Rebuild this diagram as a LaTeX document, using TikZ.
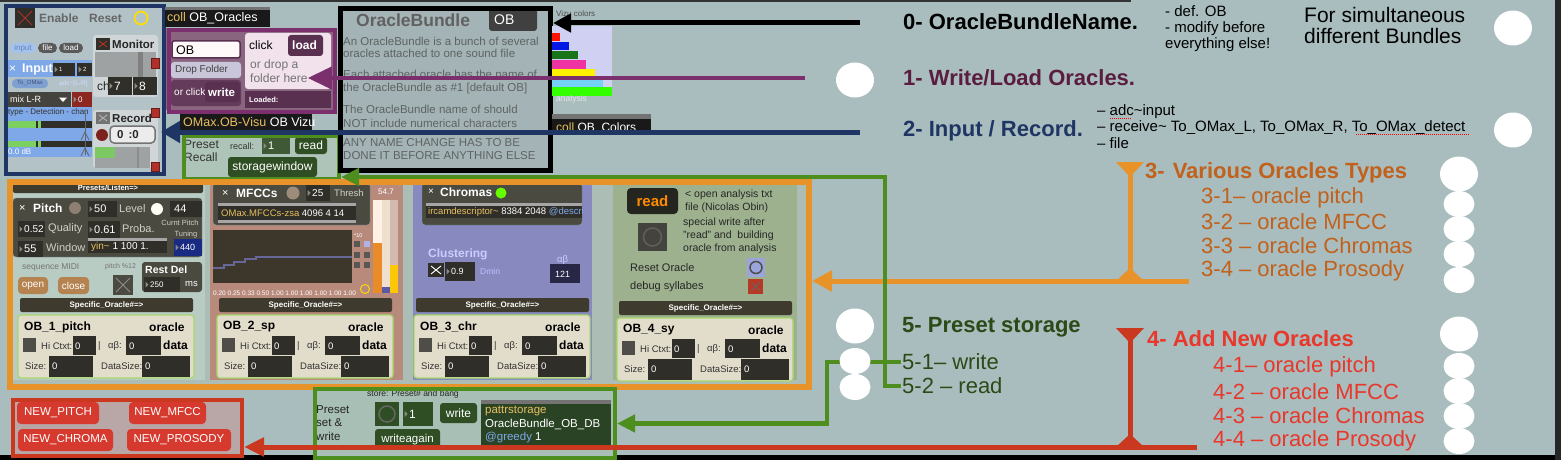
\documentclass[tikz,border=0pt]{standalone}
\usepackage{fontspec}
\setmainfont{Liberation Sans}
\usetikzlibrary{positioning,arrows.meta,calc,shapes.geometric}

\definecolor{bgteal}{HTML}{A9BDBE}
\definecolor{navyline}{HTML}{1F3563}
\definecolor{plumline}{HTML}{7B2F6C}
\definecolor{plumtext}{HTML}{5A1D40}
\definecolor{greenline}{HTML}{4E8E1E}
\definecolor{greentext}{HTML}{2C4A17}
\definecolor{orangeline}{HTML}{E8922A}
\definecolor{orangetext}{HTML}{C1611C}
\definecolor{redline}{HTML}{C9381F}
\definecolor{redtext}{HTML}{E8372B}
\definecolor{maxdark}{HTML}{2F2E28}
\definecolor{maxpanel}{HTML}{4A4A40}
\definecolor{numtri}{HTML}{8A8A80}
\definecolor{collyellow}{HTML}{E8C060}
\definecolor{inputfill}{HTML}{B2C2C6}
\definecolor{inputblue}{HTML}{7FA8E8}
\definecolor{widgetgrey}{HTML}{D0D6D8}
\definecolor{metergrey}{HTML}{9EA2A2}
\definecolor{metergreen}{HTML}{7CD060}
\definecolor{xred}{HTML}{B0302A}
\definecolor{mauve}{HTML}{8A6580}
\definecolor{darkplum}{HTML}{5A3050}
\definecolor{pinkpanel}{HTML}{F2E2EC}
\definecolor{dropgrey}{HTML}{C8C6D8}
\definecolor{recallfill}{HTML}{AEC4B8}
\definecolor{btngreen}{HTML}{2F4E23}
\definecolor{bundlefill}{HTML}{A4B3B5}
\definecolor{bundletext}{HTML}{5E6464}
\definecolor{typesfill}{HTML}{ABBDB4}
\definecolor{pitchfill}{HTML}{B8CCC4}
\definecolor{mfccfill}{HTML}{B88A7C}
\definecolor{chromafill}{HTML}{8789BF}
\definecolor{prosfill}{HTML}{9DB18E}
\definecolor{hdrdark}{HTML}{3E3A2E}
\definecolor{oraclebeige}{HTML}{E2DCCB}
\definecolor{oraclelime}{HTML}{A6D86A}
\definecolor{paneltext}{HTML}{D0D0C8}
\definecolor{brownbtn}{HTML}{B58350}
\definecolor{newfill}{HTML}{B9A7A8}
\definecolor{newred}{HTML}{D63A2E}
\definecolor{storefill}{HTML}{A7BFB4}

\newcommand\fsz[2]{\fontsize{#1}{#2}\selectfont}

\tikzset{
  boxframe/.style={anchor=north west, inner sep=0pt, line width=4pt},
  ptxt/.style={inner sep=0pt, anchor=west, font=\fsz{9}{10}},
  pbold/.style={inner sep=0pt, anchor=west, font=\fsz{11.5}{12}\bfseries, text=black!85},
  btxt/.style={inner sep=0pt, anchor=west, font=\fsz{11.5}{12}, text=bundletext},
  steplbl/.style={inner sep=1pt, anchor=west, font=\fsz{22}{24}\bfseries},
  sublbl/.style={inner sep=1pt, anchor=west, font=\fsz{22}{24}},
  bigdot/.style={ellipse, fill=white, inner sep=0pt, minimum width=38pt, minimum height=35pt},
  smalldot/.style={ellipse, fill=white, inner sep=0pt, minimum width=31pt, minimum height=26pt},
  cord/.style={line width=#1},
  spell/.style={red, line width=1pt, dash pattern=on 1pt off 1pt},
  newbtnbox/.style={fill=newred, rounded corners=4pt, text=white, inner sep=0pt,
    minimum height=22pt, font=\fsz{11.5}{12}},
  obtitle/.style={inner sep=0pt, anchor=west, font=\fsz{12}{13}\bfseries, text=black},
  obsmall/.style={inner sep=0pt, anchor=west, font=\fsz{9.5}{10}, text=black!80},
  obzero/.style={inner sep=0pt, anchor=west, font=\fsz{9.5}{10}, text=white},
}

% number box: x1 y1 x2 y2 fill value
\newcommand\numbx[6]{%
  \fill[#5] (#1,#2) rectangle (#3,#4);
  \fill[numtri] ($(#1,#2)!.5!(#1,#4)+(1.5,-3)$) -- ++(3,3) -- ++(-3,3) -- cycle;
  \node[ptxt,text=white] (nb-#1-#2) at ($(#1,#2)!.5!(#1,#4)+(6,0)$) {#6};}

% toggle: x1 y1 x2 y2 fill cross
\newcommand\crossbox[6]{%
  \fill[#5] (#1,#2) rectangle (#3,#4);
  \draw[#6,line width=.9pt] ($(#1,#2)+(3,3)$) -- ($(#3,#4)+(-3,-3)$)
    ($(#3,#2)+(-3,3)$) -- ($(#1,#4)+(3,-3)$);}

% one oracle display with its header
\newcommand\oraclecell[4]{%
\begin{scope}[shift={(#1,#2)}]
  \fill[hdrdark,rounded corners=2pt] (2,-17) rectangle (175,-3);
  \node[inner sep=0pt,font=\fsz{8}{9}\bfseries,text=white] (#4-hdr) at (88.5,-10) {Specific\_Oracle\#=>};
  \filldraw[fill=oraclebeige,draw=oraclelime,line width=1.2pt,rounded corners=3pt] (0,0) rectangle (176,63);
  \node[obtitle] (#4-name) at (6,12) {#3};
  \node[obtitle] (#4-oracle) at (131,12) {oracle};
  \fill[maxdark!85] (5,23) rectangle (18,37);
  \node[obsmall] (#4-hi) at (23,31) {Hi Ctxt:};
  \fill[maxdark] (55,21) rectangle (78,40);
  \node[obzero] (#4-hiv) at (57,31) {0};
  \node[obsmall] (#4-bar) at (80,31) {|};
  \node[obsmall] (#4-ab) at (90,31) {αβ:};
  \fill[maxdark] (108,21) rectangle (143,40);
  \node[obzero] (#4-abv) at (111,31) {0};
  \node[obtitle] (#4-data) at (145,30) {data};
  \node[obsmall] (#4-size) at (7,51) {Size:};
  \fill[maxdark] (31,41) rectangle (75,62);
  \node[obzero] (#4-sizev) at (34,51) {0};
  \node[obsmall] (#4-ds) at (83,51) {DataSize:};
  \fill[maxdark] (124,41) rectangle (172,62);
  \node[obzero] (#4-dsv) at (127,51) {0};
\end{scope}}

\begin{document}
\begin{tikzpicture}[x=1pt,y=-1pt]
\useasboundingbox (0,0) rectangle (1561,460);
\fill[bgteal] (0,0) rectangle (1561,460);
\fill[black!80] (0,0) rectangle (1131,2.5);
\fill[black] (0,455) rectangle (1561,460);
\fill[black!85] (1555,0) rectangle (1561,460);

% 2- input / record
\fill[inputfill] (4,4) rectangle (162,172);
\crossbox{15}{8}{35}{28}{maxdark}{xred}
\node[pbold,text=black!60,font=\fsz{12}{13}\bfseries] (enable) at (39,18) {Enable};
\node[pbold,text=black!60,font=\fsz{12}{13}\bfseries] (reset) at (89,18) {Reset};
\draw[yellow!80!orange,line width=1.8pt] (141,18) circle (6.5);
\fill[inputblue!70,rounded corners=5pt] (10,43) rectangle (36,53);
\node[inner sep=0pt,text=inputblue!80!black,font=\fsz{8}{9}] (pillin) at (23,48) {input};
\fill[black!65,rounded corners=5pt] (38,43) rectangle (57,53);
\node[inner sep=0pt,text=white,font=\fsz{8}{9}] (pillfile) at (47.5,48) {file};
\fill[black!65,rounded corners=5pt] (59,43) rectangle (83,53);
\node[inner sep=0pt,text=white,font=\fsz{8}{9}] (pillload) at (71,48) {load};
\fill[widgetgrey,rounded corners=3pt] (93,35) rectangle (158,97);
\crossbox{96}{38}{110}{50}{maxdark}{xred}
\node[pbold] (monitor) at (112,44) {Monitor};
\fill[metergrey] (95,52) rectangle (156,77);
\fill[black!50] (138,52) rectangle (143,77);
\filldraw[fill=xred,draw=xred!60!black] (151,58) rectangle (159,68);
\node[ptxt,font=\fsz{12}{13},text=black!85] (ch) at (97,86) {ch};
\numbx{108}{77}{132}{95}{maxdark}{\fsz{12}{13}7}
\numbx{133}{77}{157}{95}{maxdark}{\fsz{12}{13}8}
\fill[inputblue] (7,60) rectangle (92,77);
\node[ptxt,text=white,font=\fsz{12}{13}] (inx) at (9,69) {×};
\node[ptxt,text=white,font=\fsz{12.5}{13}\bfseries] (inputlbl) at (22,69) {Input};
\numbx{53}{63}{75}{76}{maxdark}{\fsz{6}{7}1}
\numbx{77}{63}{92}{76}{maxdark}{\fsz{6}{7}2}
\fill[inputblue!80!gray,rounded corners=4pt] (12,79) rectangle (48,88);
\node[inner sep=0pt,font=\fsz{6}{7},text=inputblue!50!black] (toomax) at (30,83.5) {To\_OMax};
\node[ptxt,font=\fsz{6.5}{7},text=white!85!blue] (adclr) at (59,83.5) {adc\textasciitilde[L-R]};
\fill[maxdark!90] (7,92) rectangle (71,107);
\node[ptxt,text=white] (mixlr) at (10,99.5) {mix L-R};
\fill[white] (59,97.5) -- (67,97.5) -- (63,102) -- cycle;
\numbx{72}{92}{92}{107}{xred!80!black}{\fsz{8}{9}0}
\fill[inputblue] (7,107) rectangle (92,157);
\node[ptxt,font=\fsz{8}{9},text=black!80] (detect) at (8,112.5) {type - Detection - chan};
\fill[maxdark] (7,121) rectangle (92,128);
\fill[metergreen] (7,121) rectangle (36,128);
\fill[metergreen] (38,121) rectangle (41,128);
\fill[maxdark] (7,141) rectangle (92,147);
\fill[metergreen] (7,141) rectangle (36,147);
\fill[metergreen] (38,141) rectangle (41,147);
\node[ptxt,font=\fsz{8}{9},text=white!85] (db) at (8,152) {0.0 dB};
\draw[black!60,line width=.8pt] (85,113) -- (85,155);
\draw[black!60,line width=.8pt] (81,140) -- (85,132) -- (89,140) (81,156) -- (85,148) -- (89,156);
\fill[widgetgrey,rounded corners=3pt] (93,110) rectangle (158,168);
\crossbox{96}{112}{110}{124}{black!55}{black!30}
\node[pbold] (record) at (112,118) {Record};
\fill[xred!70!black] (102,135) circle (6);
\filldraw[fill=white!85!gray,draw=black!55,line width=1.5pt,rounded corners=4pt] (110,126) rectangle (155,143);
\node[pbold] (recclock) at (117,134.5) {0\hspace{5pt}:0};
\fill[metergrey] (95,147) rectangle (150,168);
\fill[metergreen!90!gray] (95,147) rectangle (115,158);
\fill[black!45] (137,147) rectangle (139,168);
\filldraw[fill=xred,draw=xred!60!black] (151,108) rectangle (159,117);
\filldraw[fill=xred,draw=xred!60!black] (151,162) rectangle (159,171);
\node[boxframe,draw=navyline,minimum width=158pt,minimum height=168pt] (inbox) at (4,4) {};

% 1- write / load
\fill[black!55] (165,7) rectangle (270,10);
\fill[black!90] (165,10) rectangle (270,27);
\node[ptxt,font=\fsz{12.5}{13},text=white] (collor) at (167,18.5) {\textcolor{collyellow}{coll} OB\_Oracles};
\fill[mauve] (166,28) rectangle (333,110);
\filldraw[fill=white!90!pink,draw=darkplum,line width=1.5pt,rounded corners=2pt] (172,41) rectangle (240,58);
\node[ptxt,font=\fsz{12.5}{13},text=black] (obfield) at (176,50) {OB};
\fill[dropgrey,rounded corners=3pt] (171,62) rectangle (241,78);
\node[ptxt,font=\fsz{10}{11},text=black!75] (dropfolder) at (175,70) {Drop Folder};
\fill[darkplum!80!mauve,rounded corners=3pt] (171,80) rectangle (241,106);
\node[ptxt,font=\fsz{10}{11},text=white!80] (orclick) at (174,92) {or click};
\fill[darkplum,rounded corners=3pt] (205,82) rectangle (240,102);
\node[ptxt,font=\fsz{11.5}{12}\bfseries,text=white!90] (writebtn) at (208,92) {write};
\fill[pinkpanel,rounded corners=3pt] (245,33) rectangle (331,89);
\node[ptxt,font=\fsz{12}{13},text=black] (click) at (249,45) {click};
\fill[darkplum,rounded corners=3pt] (288,35) rectangle (323,56);
\node[ptxt,font=\fsz{12}{13}\bfseries,text=white] (loadbtn) at (292,45.5) {load};
\node[ptxt,font=\fsz{12}{14},text=black!55,align=left,anchor=north west] (dropnote) at (250,60) {or drop a\\folder here};
\fill[darkplum] (245,91) rectangle (331,108);
\node[ptxt,font=\fsz{7.5}{8}\bfseries,text=white] (loaded) at (249,99.5) {Loaded:};
\node[boxframe,draw=plumline,minimum width=166pt,minimum height=82pt] (wlbox) at (167,28) {};
\fill[black!90] (180,114) rectangle (312,130);
\node[ptxt,font=\fsz{12.5}{13},text=white] (visu) at (183,122) {\textcolor{collyellow}{OMax.OB-Visu} OB Vizu};

% 5- preset recall
\fill[recallfill] (182,134) rectangle (337,177);
\node[ptxt,font=\fsz{12}{13},text=black!80,align=left,anchor=north west] (recalllbl) at (184,140) {Preset\\Recall};
\node[ptxt,font=\fsz{9}{10},text=black!80] (recallcol) at (230,146) {recall:};
\numbx{262}{138}{290}{154}{btngreen!80!gray}{\fsz{11}{12}1}
\fill[btngreen,rounded corners=3pt] (295,137) rectangle (327,154);
\node[inner sep=0pt,font=\fsz{12}{13},text=white] (readbtn) at (311,145.5) {read};
\fill[btngreen,rounded corners=3pt] (228,157) rectangle (317,177);
\node[inner sep=0pt,font=\fsz{12}{13},text=white] (storwin) at (272.5,167) {storagewindow};
\node[boxframe,draw=greenline,minimum width=155pt,minimum height=43pt] (recallbox) at (182,134) {};

% 0- oracle bundle
\fill[bundlefill] (338,6) rectangle (548,168);
\node[ptxt,font=\fsz{17.5}{18}\bfseries,text=black!62] (bundletitle) at (356,20) {OracleBundle};
\fill[black!75,rounded corners=3pt] (489,8) rectangle (537,31);
\node[ptxt,font=\fsz{14}{15},text=white] (obname) at (494,19.5) {OB};
\node[btxt] (bt1) at (343,41) {An OracleBundle is a bunch of several};
\node[btxt] (bt2) at (343,53) {oracles attached to one sound file};
\node[btxt] (bt3) at (343,74) {Each attached oracle has the name of};
\node[btxt] (bt4) at (343,89) {the OracleBundle as \#1 [default OB]};
\node[btxt] (bt5) at (343,109) {The OracleBundle name of should};
\node[btxt] (bt6) at (343,123) {NOT include numerical characters};
\node[btxt] (bt7) at (343,143) {ANY NAME CHANGE HAS TO BE};
\node[btxt] (bt8) at (343,156) {DONE IT BEFORE ANYTHING ELSE};
\node[boxframe,draw=black,line width=5pt,minimum width=210pt,minimum height=162pt] (bundlebox) at (338,6) {};
\node[ptxt,font=\fsz{8}{9},text=black!70] (vizu) at (556,14) {Vizu colors};
\fill[white!85!blue!90!gray] (552,26) rectangle (612,87);
\fill[red!85!orange] (552,33) rectangle (560,41);
\fill[blue!90!cyan!90!black] (552,42) rectangle (569,50);
\fill[green!45!black!80!gray] (552,51) rectangle (578,59);
\fill[magenta!80!white] (552,60) rectangle (586,69);
\fill[yellow] (552,69) rectangle (595,78);
\fill[cyan!55!white] (552,79) rectangle (603,87);
\fill[green!80!yellow] (552,87) rectangle (612,96);
\node[ptxt,font=\fsz{8.5}{9},text=white!80!gray] (analysis) at (556,99) {analysis};
\fill[black!55] (552,114) rectangle (651,119);
\fill[black!90] (552,119) rectangle (651,135);
\node[ptxt,font=\fsz{12}{13},text=white] (collco) at (556,128) {\textcolor{collyellow}{coll} OB\_Colors};

% 3- oracle types
\fill[typesfill] (7,179) rectangle (806,384);
\fill[pitchfill] (10,182) rectangle (205,380);
\fill[hdrdark,rounded corners=2pt] (13,183) rectangle (203,193);
\node[inner sep=0pt,font=\fsz{7.5}{8}\bfseries,text=white] (presets) at (108,188) {Presets/Listen=>};
\filldraw[fill=maxpanel,draw=cyan!20!gray,rounded corners=3pt] (13,198) rectangle (202,257);
\node[ptxt,text=white!80,font=\fsz{11}{12}] (pitchx) at (19,208) {×};
\node[ptxt,text=white!85,font=\fsz{12}{13}\bfseries] (pitchlbl) at (33,208) {Pitch};
\fill[gray!80!brown] (75,208) circle (6);
\numbx{88}{201}{117}{217}{maxdark}{\fsz{11}{12}50}
\node[ptxt,text=paneltext,font=\fsz{11}{12}] (level) at (119,209) {Level};
\fill[white!95!yellow] (157,209) circle (6);
\fill[maxdark] (170,201) rectangle (202,217);
\node[ptxt,text=white,font=\fsz{11}{12}] (pitch44) at (174,209) {44};
\numbx{18}{221}{45}{237}{maxdark}{\fsz{10}{11}0.52}
\node[ptxt,text=paneltext,font=\fsz{11}{12}] (quality) at (48,229) {Quality};
\numbx{88}{221}{120}{238}{maxdark}{\fsz{11}{12}0.61}
\node[ptxt,text=paneltext,font=\fsz{11}{12}] (proba) at (122,229) {Proba.};
\node[inner sep=0pt,text=paneltext,font=\fsz{7.5}{8}] (curnt) at (180,223) {Curnt Pitch};
\numbx{18}{241}{43}{257}{maxdark}{\fsz{11}{12}55}
\node[ptxt,text=paneltext,font=\fsz{11}{12}] (window) at (46,248) {Window};
\fill[gray!70] (88,238) rectangle (167,241);
\fill[maxdark] (88,241) rectangle (167,253);
\node[ptxt,text=white,font=\fsz{10}{11}] (yin) at (91,247) {\textcolor{collyellow}{yin\textasciitilde} 1 100 1.};
\node[inner sep=0pt,text=paneltext,font=\fsz{7.5}{8}] (tuning) at (186,235) {Tuning};
\numbx{174}{239}{202}{256}{navyline!80!blue}{\fsz{9}{10}440}
\node[ptxt,text=black!55,font=\fsz{8.5}{9}] (seqmidi) at (22,267) {sequence MIDI};
\node[ptxt,text=black!55,font=\fsz{7}{8}] (pitch12) at (105,267) {pitch \%12};
\fill[brownbtn,rounded corners=4pt] (18,277) rectangle (48,294);
\node[inner sep=0pt,text=white!90,font=\fsz{10}{11}] (openbtn) at (33,285.5) {open};
\fill[brownbtn,rounded corners=4pt] (58,277) rectangle (89,294);
\node[inner sep=0pt,text=white!90,font=\fsz{10}{11}] (closebtn) at (73.5,285.5) {close};
\crossbox{113}{275}{133}{295}{maxpanel}{black!45}
\fill[maxpanel,rounded corners=3pt] (142,262) rectangle (202,292);
\node[ptxt,text=white!90,font=\fsz{10.5}{11}\bfseries] (restdel) at (145,270) {Rest Del};
\numbx{144}{277}{180}{292}{maxdark}{\fsz{8}{9}250}
\node[ptxt,text=white!80,font=\fsz{9.5}{10}] (ms) at (185,284) {ms};
\oraclecell{18}{315}{OB\_1\_pitch}{ob1}

\fill[mfccfill] (210,182) rectangle (403,380);
\filldraw[fill=maxpanel,draw=cyan!20!gray,rounded corners=3pt] (213,183) rectangle (370,225);
\node[ptxt,text=white!80,font=\fsz{11}{12}] (mfccx) at (222,193) {×};
\node[ptxt,text=white,font=\fsz{12}{13}\bfseries] (mfcclbl) at (236,193) {MFCCs};
\fill[gray!70!brown!90] (293,193) circle (6.5);
\numbx{306}{185}{330}{201}{maxdark}{\fsz{10}{11}25}
\node[ptxt,text=paneltext,font=\fsz{9.5}{10}] (thresh) at (334,193) {Thresh};
\fill[gray!70] (218,203) rectangle (356,206);
\fill[maxdark] (218,206) rectangle (356,220);
\node[ptxt,text=white,font=\fsz{9.5}{10}] (zsa) at (221,213) {\textcolor{collyellow}{OMax.MFCCs-zsa} 4096 4 14};
\fill[gray!70] (218,220) rectangle (356,223);
\fill[maxdark!90!brown] (213,230) rectangle (352,283);
\draw[blue!20!gray,line width=1.2pt] (213,268) -- (224,268) -- (224,265) -- (234,265) -- (234,262)
  -- (245,262) -- (245,259) -- (256,259) -- (256,257) -- (352,257);
\foreach \yy in {241,252,262} {
  \fill[gray!50!maxdark] (354,\yy) rectangle (360,\yy+6);
  \fill[gray!50!maxdark] (364,\yy) rectangle (370,\yy+6);
}
\fill[blue!25!white!80!gray] (364,241) rectangle (370,247);
\node[ptxt,text=white!80,font=\fsz{5.5}{6}] (times10) at (354,236) {*10};
\node[ptxt,text=white!80,font=\fsz{6.5}{7}] (ratios) at (213,293) {0.20 0.25 0.33 0.50 1.00 1.00 1.00 1.00 1.00 1.00};
\draw[yellow!80!orange,line width=.9pt] (365,289) circle (4.5);
\fill[white!90!orange] (373,200) rectangle (382,243);
\fill[orangeline!95!red] (373,243) rectangle (382,293);
\fill[white!75!brown] (382,200) rectangle (390,287);
\fill[blue!30!gray] (382,287) rectangle (390,293);
\fill[mfccfill!60!white] (390,200) rectangle (398,265);
\fill[yellow!60!orange] (390,265) rectangle (398,293);
\node[ptxt,text=white!80,font=\fsz{8}{9}] (meter) at (378,192) {54.7};
\oraclecell{217}{315}{OB\_2\_sp}{ob2}

\fill[chromafill] (413,182) rectangle (592,380);
\filldraw[fill=maxpanel,draw=cyan!20!gray,rounded corners=3pt] (422,183) rectangle (582,225);
\node[ptxt,text=white!80,font=\fsz{10}{11}] (chromax) at (428,192) {×};
\node[ptxt,text=white,font=\fsz{12}{13}\bfseries] (chromalbl) at (440,192) {Chromas};
\fill[green!60!yellow] (501,193) circle (5.5);
\begin{scope}
  \clip (426,203) rectangle (582,220);
  \fill[gray!70] (426,203) rectangle (582,206);
  \fill[maxdark] (426,206) rectangle (582,218);
  \node[ptxt,text=white,font=\fsz{9.5}{10}] (ircam) at (428,212) {\textcolor{collyellow}{ircamdescriptor\textasciitilde} 8384 2048 \textcolor{inputblue}{@descriptors}};
\end{scope}
\node[ptxt,text=white!80!blue,font=\fsz{12}{13}\bfseries] (clustering) at (428,254) {Clustering};
\crossbox{428}{263}{444}{277}{maxdark}{white!80}
\numbx{445}{262}{475}{281}{maxdark}{\fsz{9}{10}0.9}
\node[ptxt,text=white!75!blue,font=\fsz{8.5}{9}] (dmin) at (480,271) {Dmin};
\node[ptxt,text=white!80!blue,font=\fsz{9.5}{10}] (abhead) at (557,260) {αβ};
\fill[maxdark!85!blue] (550,264) rectangle (580,283);
\node[ptxt,text=white,font=\fsz{9}{10}] (ab121) at (555,274) {121};
\oraclecell{414}{315}{OB\_3\_chr}{ob3}

\fill[prosfill] (613,182) rectangle (797,380);
\fill[maxdark!80!black,rounded corners=4pt] (627,188) rectangle (678,214);
\node[inner sep=0pt,text=orange!90!yellow,font=\fsz{15}{16}\bfseries] (readana) at (652.5,201) {read};
\node[ptxt,anchor=north west,align=left,font=\fsz{10.5}{12.5},text=black!85] (opennote) at (685,190) {< open analysis txt\\file (Nicolas Obin)};
\node[ptxt,anchor=north west,align=left,font=\fsz{10.5}{13},text=black!85] (specialnote) at (683,218) {special write after\\"read" and\ \ building\\oracle from analysis};
\fill[maxdark!90] (638,223) rectangle (667,251);
\draw[gray!60!maxdark,line width=1.5pt] (652.5,237) circle (9);
\node[ptxt,font=\fsz{11}{12},text=black!85] (resetor) at (630,268) {Reset Oracle};
\fill[cyan!30!blue!40!white] (747,258) rectangle (765,277);
\draw[black!70,line width=1.5pt] (756,267.5) circle (6);
\node[ptxt,font=\fsz{11}{12},text=black!85] (debugsy) at (630,287) {debug syllabes};
\crossbox{748}{279}{763}{294}{xred!90!orange}{black!60}
\oraclecell{617}{318}{OB\_4\_sy}{ob4}
\node[boxframe,draw=orangeline,line width=6pt,minimum width=799pt,minimum height=205pt] (typesbox) at (7,179) {};

% 4- new oracles
\fill[newfill] (11,398) rectangle (240,454);
\foreach \t/\cx/\cy/\w [count=\i] in {NEW\_PITCH/58/413/82, NEW\_MFCC/167.5/413/77,
    NEW\_CHROMA/65.5/440/95, NEW\_PROSODY/179/440/104}
  \node[newbtnbox,minimum width=\w pt] (newbtn\i) at (\cx,\cy) {\t};
\node[boxframe,draw=redline,minimum width=229pt,minimum height=56pt] (newbox) at (11,398) {};

% 5- preset storage
\fill[storefill] (313,387) rectangle (613,456);
\node[ptxt,font=\fsz{8.5}{9},text=black!85] (storehint) at (367,394) {store: Preset\# and bang};
\node[ptxt,font=\fsz{11.5}{13.5},align=left,anchor=north west,text=black!85] (storelbl) at (316,405) {Preset\\set \&\\write};
\fill[btngreen] (375,402) rectangle (399,426);
\draw[black!60,line width=1.5pt] (387,414) circle (8);
\numbx{403}{402}{433}{426}{btngreen}{\fsz{12}{13}1}
\fill[btngreen,rounded corners=3pt] (440,403) rectangle (477,423);
\node[inner sep=0pt,font=\fsz{12}{13},text=white] (writebtn2) at (458.5,413) {write};
\fill[btngreen,rounded corners=3pt] (375,429) rectangle (440,449);
\node[inner sep=0pt,font=\fsz{11.5}{12},text=white] (writeagain) at (407.5,439.5) {writeagain};
\fill[black!55] (481,400) rectangle (611,404);
\fill[maxdark!90!green] (481,404) rectangle (611,449);
\node[ptxt,font=\fsz{11.5}{13.5},align=left,anchor=north west,text=white] (pattr) at (485,406)
  {\textcolor{collyellow}{pattrstorage}\\OracleBundle\_OB\_DB\\\textcolor{inputblue}{@greedy} 1};
\node[boxframe,draw=greenline,minimum width=300pt,minimum height=69pt] (storebox) at (313,387) {};

% notes on the right
\node[steplbl,text=black] (lbl0) at (902,22) {0- OracleBundleName.};
\node[inner sep=0pt,anchor=north west,align=left,font=\fsz{15}{16}] (note0) at (1165,5) {- def. OB\\- modify before\\everything else!};
\node[inner sep=0pt,anchor=north west,align=left,font=\fsz{21}{21.5}] (note0b) at (1304,7) {For simultaneous\\different Bundles};
\node[steplbl,text=plumtext] (lbl1) at (902,78) {1- Write/Load Oracles.};
\node[steplbl,text=navyline] (lbl2) at (902,131) {2- Input / Record.};
\node[inner sep=0pt,anchor=north west,align=left,font=\fsz{15}{16.5}] (note2) at (1097,104)
  {– adc\textasciitilde input\\– receive\textasciitilde{} To\_OMax\_L, To\_OMax\_R, To\_OMax\_detect\\– file};
\draw[spell] (1110,118) -- (1132,118);
\draw[spell] (1356,134.5) -- (1469,134.5);
\node[steplbl,text=orangetext] (lbl3) at (1144,173) {3-\hspace{8pt}Various Oracles Types};
\node[sublbl,text=orangetext] (lbl31) at (1200,198) {3-1– oracle pitch};
\node[sublbl,text=orangetext] (lbl32) at (1200,222) {3-2 – oracle MFCC};
\node[sublbl,text=orangetext] (lbl33) at (1200,246) {3-3 – oracle Chromas};
\node[sublbl,text=orangetext] (lbl34) at (1200,271) {3-4 – oracle Prosody};
\node[steplbl,text=greentext] (lbl5) at (901,327) {5- Preset storage};
\node[sublbl,text=greentext] (lbl51) at (901,362) {5-1– write};
\node[sublbl,text=greentext] (lbl52) at (901,386) {5-2 – read};
\node[steplbl,text=redtext] (lbl4) at (1146,339) {4- Add New Oracles};
\node[sublbl,text=redtext] (lbl41) at (1212,367) {4-1– oracle pitch};
\node[sublbl,text=redtext] (lbl42) at (1212,392) {4-2 – oracle MFCC};
\node[sublbl,text=redtext] (lbl43) at (1212,416) {4-3 – oracle Chromas};
\node[sublbl,text=redtext] (lbl44) at (1212,441) {4-4 – oracle Prosody};

% connectors
\coordinate (c0) at (860,23);
\coordinate (c1) at (805,78);
\coordinate (c2) at (860,132);
\coordinate (c3) at (1189,281);
\coordinate (c3top) at (1130,170);
\coordinate (c4) at (1197,447);
\coordinate (c4top) at (1130,336);
\draw[cord=5pt,black,-{Triangle[length=18pt,width=18pt]}] (c0) -- (bundlebox.east |- c0);
\draw[cord=4pt,plumline,-{Triangle[length=24pt,width=22pt]}] (c1) -- (dropnote.east |- c1);
\draw[cord=5pt,navyline,-{Triangle[length=19pt,width=21pt]}] (c2) -- ([xshift=-5pt]inbox.east |- c2);
\draw[cord=5pt,orangeline] (c3top) -- (c3top |- c3);
\fill[orangeline] ($(c3top)+(-14,-8)$) -- ($(c3top)+(14,-8)$) -- ($(c3top)+(0,7)$) -- cycle;
\fill[orangeline] ($(c3top |- c3)+(-14,0)$) -- ($(c3top |- c3)+(14,0)$) -- ($(c3top |- c3)+(0,-13)$) -- cycle;
\draw[cord=5pt,orangeline,-{Triangle[length=20pt,width=20pt]}] (c3) -- (typesbox.east |- c3);
\draw[cord=5pt,redline] (c4top) -- (c4top |- c4);
\fill[redline] ($(c4top)+(-14,-8)$) -- ($(c4top)+(14,-8)$) -- ($(c4top)+(0,7)$) -- cycle;
\fill[redline] ($(c4top |- c4)+(-14,0)$) -- ($(c4top |- c4)+(14,0)$) -- ($(c4top |- c4)+(0,-13)$) -- cycle;
\draw[cord=5pt,redline,-{Triangle[length=20pt,width=18pt]}] (c4) -- (newbox.east |- c4);
\draw[cord=4.5pt,greenline,-{Triangle[length=18pt,width=17pt]}] (lbl52.west) -- ++(-16,0) |- ([yshift=4pt]recallbox.south east);
\draw[cord=4.5pt,greenline,-{Triangle[length=18pt,width=17pt]}] (lbl51.west) -- ++(-74,0) |- (storebox.east);

% white dots
\node[bigdot] (d0) at (1513,28) {};
\node[bigdot] (d1) at (855,80) {};
\node[bigdot] (d2) at (1513,130) {};
\node[bigdot] (d3) at (1459,174) {};
\foreach \yy [count=\i] in {204,229,254,280}
  \node[smalldot] (d3\i) at (1459,\yy) {};
\node[bigdot] (d4) at (1459,334) {};
\foreach \yy [count=\i] in {366,391,416,441}
  \node[smalldot] (d4\i) at (1459,\yy) {};
\node[bigdot] (d5) at (855,326) {};
\node[smalldot] (d51) at (855,361) {};
\node[smalldot] (d52) at (855,387) {};
\end{tikzpicture}
\end{document}
